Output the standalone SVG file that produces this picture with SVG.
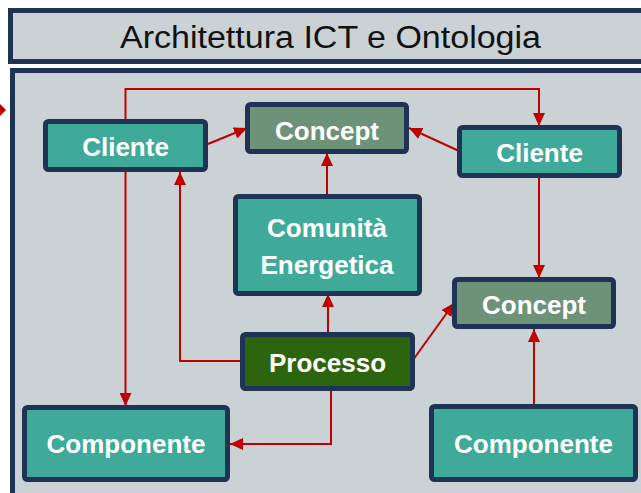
<svg xmlns="http://www.w3.org/2000/svg" width="641" height="493" viewBox="0 0 641 493">
<defs>
<style>
.frame{fill:#CAD2D5;stroke:#1F3354;stroke-width:5}
.node rect{stroke:#1F3354;stroke-width:5}
.teal{fill:#3FAA99}
.concept{fill:#6C9277}
.proc{fill:#2C650E}
.lbl{font-family:"Liberation Sans",Arial,sans-serif;font-weight:bold;font-size:26px;fill:#FFFFFF;text-anchor:middle}
.title{font-family:"Liberation Sans",Arial,sans-serif;font-size:31px;fill:#111111;text-anchor:middle}
.conn{fill:none;stroke:#C00000;stroke-width:2}
</style>
<marker id="arr" markerUnits="userSpaceOnUse" markerWidth="14" markerHeight="12" viewBox="0 0 14 12" refX="13" refY="6" orient="auto">
<path d="M0,0 L13,6 L0,12 Z" fill="#C00000"/>
</marker>
</defs>
<rect x="0" y="0" width="641" height="493" fill="#FFFFFF"/>
<g id="title">
<rect class="frame" x="10.5" y="10.5" width="640" height="51"/>
<text class="title" x="330.5" y="48" textLength="421" lengthAdjust="spacingAndGlyphs">Architettura ICT e Ontologia</text>
</g>
<g id="panel">
<rect class="frame" x="12.5" y="70.5" width="640" height="430"/>
</g>
<polygon points="0,104 6,110 0,116 -6,110" fill="#C00000"/>
<g id="connectors">
<polyline class="conn" points="125.5,121 125.5,89 539,89 539,126" marker-end="url(#arr)"/>
<line class="conn" x1="208" y1="144" x2="247" y2="128" marker-end="url(#arr)"/>
<line class="conn" x1="459" y1="151" x2="409" y2="128" marker-end="url(#arr)"/>
<line class="conn" x1="327" y1="194" x2="327" y2="153" marker-end="url(#arr)"/>
<line class="conn" x1="328" y1="333" x2="328" y2="294" marker-end="url(#arr)"/>
<polyline class="conn" points="240,361 180,361 180,172" marker-end="url(#arr)"/>
<line class="conn" x1="125.5" y1="171" x2="125.5" y2="406" marker-end="url(#arr)"/>
<polyline class="conn" points="331,390 331,444 230,444" marker-end="url(#arr)"/>
<line class="conn" x1="413" y1="360" x2="454" y2="303" marker-end="url(#arr)"/>
<line class="conn" x1="539" y1="177" x2="539" y2="278" marker-end="url(#arr)"/>
<line class="conn" x1="534" y1="406" x2="534" y2="329" marker-end="url(#arr)"/>
</g>
<g id="cliente-left" class="node">
<rect class="teal" x="45.5" y="121.5" width="160" height="48" rx="3"/>
<text class="lbl" x="125.5" y="156">Cliente</text>
</g>
<g id="concept-top" class="node">
<rect class="concept" x="247.5" y="104.5" width="159" height="47" rx="3"/>
<text class="lbl" x="327" y="140">Concept</text>
</g>
<g id="cliente-right" class="node">
<rect class="teal" x="459.5" y="127.5" width="160" height="48" rx="3"/>
<text class="lbl" x="539.5" y="162">Cliente</text>
</g>
<g id="comunita" class="node">
<rect class="teal" x="235.5" y="196.5" width="184" height="97" rx="3"/>
<text class="lbl" x="327" y="237">Comunità</text>
<text class="lbl" x="327" y="274">Energetica</text>
</g>
<g id="concept-right" class="node">
<rect class="concept" x="454.5" y="279.5" width="159" height="47" rx="3"/>
<text class="lbl" x="534" y="314">Concept</text>
</g>
<g id="processo" class="node">
<rect class="proc" x="242.5" y="334.5" width="170" height="54" rx="3"/>
<text class="lbl" x="327.5" y="372">Processo</text>
</g>
<g id="componente-left" class="node">
<rect class="teal" x="24.5" y="407.5" width="203" height="72" rx="3"/>
<text class="lbl" x="126" y="453">Componente</text>
</g>
<g id="componente-right" class="node">
<rect class="teal" x="431.5" y="406.5" width="204" height="73" rx="3"/>
<text class="lbl" x="533.5" y="453">Componente</text>
</g>
</svg>
